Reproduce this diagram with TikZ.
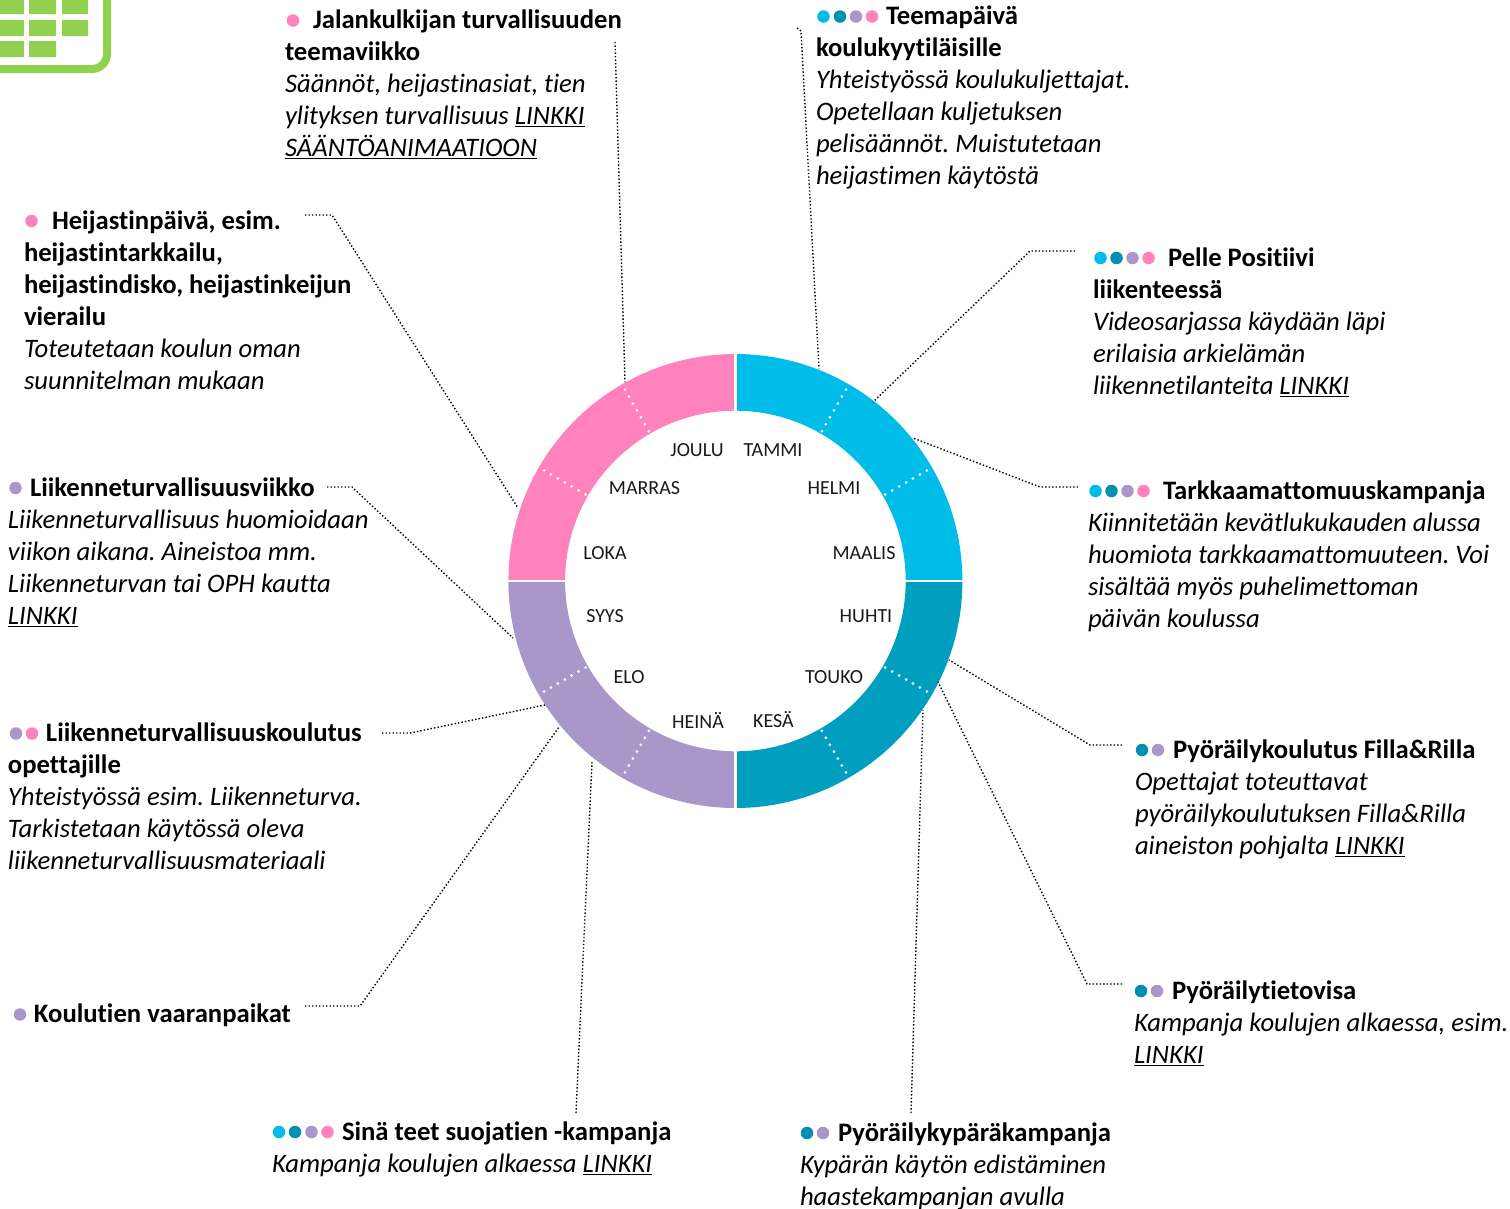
\documentclass[tikz,border=0pt]{standalone}
\usepackage{fontspec}
\setmainfont[Ligatures=CommonOff]{Carlito}
\definecolor{cCy}{HTML}{00BCE8}
\definecolor{cTe}{HTML}{009FC0}
\definecolor{cDotTe}{HTML}{0090B2}
\definecolor{cPu}{HTML}{A897C8}
\definecolor{cPi}{HTML}{FF82BC}
\definecolor{cGr}{HTML}{92D050}
\newcommand{\hd}[1]{\textbf{#1}}
\newcommand{\ind}[1]{\rule{0pt}{21.4pt}\hspace*{#1pt}}
\newcommand{\lk}[1]{\underline{#1}}
\tikzset{
  txt/.style={anchor=north west,inner sep=0pt,outer sep=0pt,align=left,font=\fontsize{26.67}{32}\selectfont\frenchspacing},
  mon/.style={anchor=center,inner sep=0pt,font=\fontsize{20}{24}\selectfont,text=black!90},
  conn/.style={draw=black,line width=1.4pt,dash pattern=on 1.4pt off 2.1pt},
  sep/.style={draw=white,line width=2.4pt},
  tick/.style={draw=white,line width=3pt,line cap=round,dash pattern=on 0pt off 8pt},
  dotm/.style={circle,minimum size=12.5pt,inner sep=0pt,draw=none}
}
\newcommand{\sect}[3]{\fill[#1] ([shift={(#2:227)}]735.4,-581) arc[start angle=#2,end angle=#3,radius=227] -- ([shift={(#3:170.3)}]735.4,-581) arc[start angle=#3,end angle=#2,radius=170.3] -- cycle;}
\begin{document}
\begin{tikzpicture}[x=1pt,y=1pt]
\useasboundingbox (0,0) rectangle (1510,-1208);
% calendar icon
\begin{scope}
\clip (0,0) rectangle (1510,-1208);
\draw[cGr,line width=8pt] (107,8) -- (107,-54) arc[start angle=0,end angle=-90,radius=15] -- (-8,-69);
\fill[cGr] (0,0) rectangle (24,-14) (29,0) rectangle (56,-14) (62,0) rectangle (88,-14)
  (0,-20) rectangle (24,-36) (29,-20) rectangle (56,-36) (62,-20) rectangle (88,-36)
  (0,-41) rectangle (24,-57) (29,-41) rectangle (56,-57);
\end{scope}
% ring
\sect{cCy}{0}{90}
\sect{cPi}{90}{180}
\sect{cPu}{180}{270}
\sect{cTe}{270}{360}
\coordinate (c) at (735.4,-581);
\draw[sep] ([shift={(0:169)}]c) -- ([shift={(0:228)}]c);
\draw[sep] ([shift={(90:169)}]c) -- ([shift={(90:228)}]c);
\draw[sep] ([shift={(180:169)}]c) -- ([shift={(180:228)}]c);
\draw[sep] ([shift={(270:169)}]c) -- ([shift={(270:228)}]c);
\foreach \a in {30,60,120,150,210,240,300,330}{
  \draw[tick] ([shift={(\a:173)}]c) -- ([shift={(\a:222)}]c);
}
% months
\node[mon] (joulu) at (697,-450) {JOULU};
\node[mon] (tammi) at (773,-450) {TAMMI};
\node[mon] (marras) at (644.5,-488) {MARRAS};
\node[mon] (helmi) at (834,-488) {HELMI};
\node[mon] (loka) at (605,-553) {LOKA};
\node[mon] (maalis) at (864,-553) {MAALIS};
\node[mon] (syys) at (605,-616.5) {SYYS};
\node[mon] (huhti) at (866,-616.5) {HUHTI};
\node[mon] (elo) at (629,-677) {ELO};
\node[mon] (touko) at (834,-677) {TOUKO};
\node[mon] (heina) at (698,-720) {HEINÄ};
\node[mon] (kesa) at (773.5,-720) {KESÄ};
% text blocks
\node[txt] (jal) at (285,-7) {\ind{28}\hd{Jalankulkijan turvallisuuden}\\\hd{teemaviikko}\\\textit{Säännöt, heijastinasiat, tien}\\\textit{ylityksen turvallisuus \lk{LINKKI}}\\\textit{\lk{SÄÄNTÖANIMAATIOON}}};
\node[txt] (tee) at (816,-3) {\ind{70}\hd{Teemapäivä}\\\hd{koulukyytiläisille}\\\textit{Yhteistyössä koulukuljettajat.}\\\textit{Opetellaan kuljetuksen}\\\textit{pelisäännöt. Muistutetaan}\\\textit{heijastimen käytöstä}};
\node[txt] (pel) at (1093,-245) {\ind{75}\hd{Pelle Positiivi}\\\hd{liikenteessä}\\\textit{Videosarjassa käydään läpi}\\\textit{erilaisia arkielämän}\\\textit{liikennetilanteita \lk{LINKKI}}};
\node[txt] (tar) at (1088,-478) {\ind{75}\hd{Tarkkaamattomuuskampanja}\\\textit{Kiinnitetään kevätlukukauden alussa}\\\textit{huomiota tarkkaamattomuuteen. Voi}\\\textit{sisältää myös puhelimettoman}\\\textit{päivän koulussa}};
\node[txt] (fil) at (1135,-737) {\ind{38}\hd{Pyöräilykoulutus Filla\&Rilla}\\\textit{Opettajat toteuttavat}\\\textit{pyöräilykoulutuksen Filla\&Rilla}\\\textit{aineiston pohjalta \lk{LINKKI}}};
\node[txt] (tie) at (1134,-978) {\ind{38}\hd{Pyöräilytietovisa}\\\textit{Kampanja koulujen alkaessa, esim.}\\\textit{\lk{LINKKI}}};
\node[txt] (kyp) at (800,-1120) {\ind{38}\hd{Pyöräilykypäräkampanja}\\\textit{Kypärän käytön edistäminen}\\\textit{haastekampanjan avulla}};
\node[txt] (sin) at (272,-1119) {\ind{70}\hd{Sinä teet suojatien -kampanja}\\\textit{Kampanja koulujen alkaessa \lk{LINKKI}}};
\node[txt] (kou) at (8,-1001) {\ind{26}\hd{Koulutien vaaranpaikat}};
\node[txt] (ltk) at (8,-720) {\ind{38}\hd{Liikenneturvallisuuskoulutus}\\\hd{opettajille}\\\textit{Yhteistyössä esim. Liikenneturva.}\\\textit{Tarkistetaan käytössä oleva}\\\textit{liikenneturvallisuusmateriaali}};
\node[txt] (ltv) at (8,-475) {\ind{22}\hd{Liikenneturvallisuusviikko}\\\textit{Liikenneturvallisuus huomioidaan}\\\textit{viikon aikana. Aineistoa mm.}\\\textit{Liikenneturvan tai OPH kautta}\\\textit{\lk{LINKKI}}};
\node[txt] (hei) at (24,-208) {\ind{28}\hd{Heijastinpäivä, esim.}\\\hd{heijastintarkkailu,}\\\hd{heijastindisko, heijastinkeijun}\\\hd{vierailu}\\\textit{Toteutetaan koulun oman}\\\textit{suunnitelman mukaan}};
% dots
\node[dotm,fill=cPi] (d1) at (293,-20.5) {};
\node[dotm,fill=cCy] (d2a) at (823.5,-16.5) {};
\node[dotm,fill=cDotTe] (d2b) at (840,-16.5) {};
\node[dotm,fill=cPu] (d2c) at (856,-16.5) {};
\node[dotm,fill=cPi] (d2d) at (872,-16.5) {};
\node[dotm,fill=cCy] (d3a) at (1100.5,-258) {};
\node[dotm,fill=cDotTe] (d3b) at (1116.5,-258) {};
\node[dotm,fill=cPu] (d3c) at (1132.5,-258) {};
\node[dotm,fill=cPi] (d3d) at (1148.5,-258) {};
\node[dotm,fill=cCy] (d4a) at (1095.5,-491) {};
\node[dotm,fill=cDotTe] (d4b) at (1111.5,-491) {};
\node[dotm,fill=cPu] (d4c) at (1127.5,-491) {};
\node[dotm,fill=cPi] (d4d) at (1143.5,-491) {};
\node[dotm,fill=cDotTe] (d5a) at (1142,-750) {};
\node[dotm,fill=cPu] (d5b) at (1158,-750) {};
\node[dotm,fill=cDotTe] (d6a) at (1141,-991) {};
\node[dotm,fill=cPu] (d6b) at (1157,-991) {};
\node[dotm,fill=cDotTe] (d7a) at (807,-1133) {};
\node[dotm,fill=cPu] (d7b) at (823,-1133) {};
\node[dotm,fill=cCy] (d8a) at (279,-1132) {};
\node[dotm,fill=cDotTe] (d8b) at (295,-1132) {};
\node[dotm,fill=cPu] (d8c) at (311.5,-1132) {};
\node[dotm,fill=cPi] (d8d) at (327.5,-1132) {};
\node[dotm,fill=cPu] (d9) at (20,-1014.5) {};
\node[dotm,fill=cPu] (d10a) at (16,-733.5) {};
\node[dotm,fill=cPi] (d10b) at (32,-733.5) {};
\node[dotm,fill=cPu] (d11) at (15.5,-488) {};
\node[dotm,fill=cPi] (d12) at (31.5,-221) {};
% connector ends
\coordinate (jal1) at (615,-42);   \coordinate (jal2) at (625,-382);
\coordinate (tee1) at (797,-28);   \coordinate (tee2) at (801,-31); \coordinate (tee3) at (819,-369);
\coordinate (pel1) at (1075,-251); \coordinate (pel2) at (1030,-251); \coordinate (pel3) at (873,-402);
\coordinate (tar1) at (1078,-487); \coordinate (tar2) at (1040,-487); \coordinate (tar3) at (913,-438);
\coordinate (fil1) at (1122,-745); \coordinate (fil2) at (1090,-745); \coordinate (fil3) at (949,-660);
\coordinate (tie1) at (1122,-984); \coordinate (tie2) at (1087,-984); \coordinate (tie3) at (938,-682);
\coordinate (kyp1) at (911,-1113); \coordinate (kyp2) at (923,-710);
\coordinate (sin1) at (576,-1113); \coordinate (sin2) at (592,-762);
\coordinate (kou1) at (305,-1006); \coordinate (kou2) at (360,-1006); \coordinate (kou3) at (559,-727);
\coordinate (ltk1) at (382,-733);  \coordinate (ltk2) at (410,-733);  \coordinate (ltk3) at (545,-705);
\coordinate (ltv1) at (327,-487);  \coordinate (ltv2) at (352,-487);  \coordinate (ltv3) at (513,-638);
\coordinate (hei1) at (305,-215);  \coordinate (hei2) at (332,-215);  \coordinate (hei3) at (518,-508);
\draw[conn] (jal1) -- (jal2);
\draw[conn] (tee1) -- (tee2) -- (tee3);
\draw[conn] (pel1) -- (pel2) -- (pel3);
\draw[conn] (tar1) -- (tar2) -- (tar3);
\draw[conn] (fil1) -- (fil2) -- (fil3);
\draw[conn] (tie1) -- (tie2) -- (tie3);
\draw[conn] (kyp1) -- (kyp2);
\draw[conn] (sin1) -- (sin2);
\draw[conn] (kou1) -- (kou2) -- (kou3);
\draw[conn] (ltk1) -- (ltk2) -- (ltk3);
\draw[conn] (ltv1) -- (ltv2) -- (ltv3);
\draw[conn] (hei1) -- (hei2) -- (hei3);
\end{tikzpicture}
\end{document}
